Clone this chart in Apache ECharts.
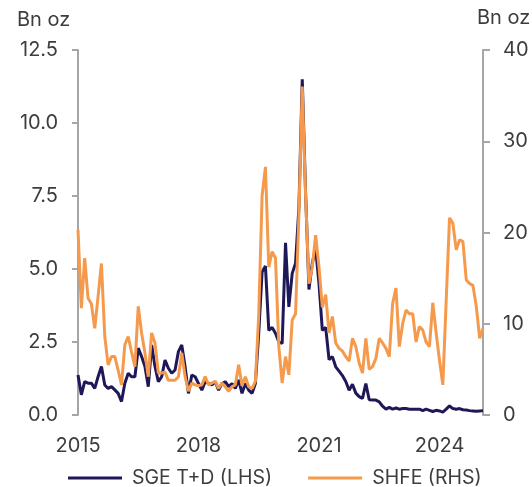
<!DOCTYPE html>
<html>
<head>
<meta charset="utf-8">
<script src="https://cdn.jsdelivr.net/npm/echarts@6/dist/echarts.min.js"></script>
<style>
html,body{margin:0;padding:0;background:#fff;}
#chart{width:532px;height:487px;}
</style>
</head>
<body>
<div id="chart"></div>
<script>
// Monthly, Jan 2015 .. Feb 2025
var startYear = 2015;
var months = [];
for (var i = 0; i < 122; i++) {
  var y = startYear + Math.floor(i / 12);
  var m = (i % 12) + 1;
  months.push(y + '-' + (m < 10 ? '0' + m : m));
}
var yearTickLabels = ['2015', '2018', '2021', '2024'];

// SGE T+D, Bn oz (left axis)
var sgeTD = [
  1.37, 0.69, 1.14, 1.09, 1.09, 0.91, 1.31, 1.66, 1.03, 0.91, 0.97, 0.86,
  0.74, 0.46, 1.09, 1.43, 1.31, 1.31, 2.29, 2.00, 1.66, 0.97, 2.40, 1.66,
  1.14, 1.31, 1.88, 1.60, 1.43, 1.54, 2.17, 2.40, 1.65, 0.74, 1.37, 1.31,
  1.08, 0.85, 1.14, 1.08, 1.03, 1.14, 0.85, 1.08, 1.14, 0.97, 1.08, 0.91,
  1.20, 0.74, 1.08, 0.85, 0.74, 1.08, 2.80, 4.90, 5.10, 2.90, 3.00, 2.80,
  2.50, 2.45, 5.90, 3.70, 4.85, 5.20, 7.10, 11.50, 7.60, 4.30, 5.20, 5.70,
  4.50, 2.90, 3.00, 1.90, 2.00, 1.65, 1.50, 1.35, 1.15, 0.85, 1.05, 0.75,
  0.63, 0.57, 1.08, 0.52, 0.51, 0.51, 0.45, 0.30, 0.20, 0.26, 0.20, 0.24,
  0.20, 0.22, 0.22, 0.20, 0.20, 0.20, 0.20, 0.15, 0.20, 0.16, 0.12, 0.16,
  0.14, 0.10, 0.20, 0.31, 0.22, 0.20, 0.22, 0.18, 0.17, 0.15, 0.14, 0.13,
  0.14, 0.15
];

// SHFE, Bn oz (right axis)
var shfe = [
  20.3, 11.7, 17.2, 12.8, 12.2, 9.5, 13.0, 16.6, 8.6, 5.5, 6.4, 6.4,
  4.9, 3.3, 7.7, 8.6, 6.9, 5.3, 11.9, 9.0, 6.8, 4.2, 9.0, 7.9,
  4.6, 4.6, 4.7, 3.8, 3.8, 3.8, 4.2, 6.8, 4.2, 2.6, 3.5, 3.3,
  3.2, 3.3, 4.2, 3.3, 3.5, 3.7, 2.9, 3.5, 3.1, 2.6, 3.1, 3.3,
  5.5, 3.2, 4.2, 3.1, 2.9, 3.7, 11.0, 24.0, 27.2, 16.2, 17.9, 17.2,
  7.5, 3.5, 6.4, 4.4, 10.4, 11.1, 22.0, 36.0, 24.0, 14.4, 16.2, 19.7,
  16.2, 11.8, 13.2, 9.0, 10.8, 7.9, 7.3, 7.0, 6.4, 5.9, 8.4, 7.5,
  5.7, 4.6, 8.4, 5.0, 5.3, 6.2, 8.4, 7.9, 7.3, 6.4, 12.2, 13.9,
  7.5, 10.0, 11.5, 11.1, 11.1, 8.0, 9.7, 9.3, 8.0, 7.5, 12.3, 9.0,
  6.0, 3.3, 12.5, 21.6, 21.0, 18.1, 19.2, 19.0, 14.8, 14.4, 14.2, 11.9,
  8.4, 9.5
];

var seriesNames = ['SGE T+D (LHS)', 'SHFE (RHS)'];
var navy = '#1e1858';
var orange = '#f59a4c';
var textColor = '#3d3d3d';
var axisColor = '#a6a6a6';
var fontFamily = 'Inter';
var fs = 20;

var chart = echarts.init(document.getElementById('chart'), null, {renderer: 'canvas'});
chart.setOption({
  animation: false,
  textStyle: {fontFamily: fontFamily},
  grid: {left: 78, right: 49, top: 50, bottom: 72, containLabel: false},
  graphic: [
    {type: 'text', left: 17, top: 10, style: {text: 'Bn oz', fill: textColor, font: fs + 'px ' + fontFamily}},
    {type: 'text', left: 477, top: 8, style: {text: 'Bn oz', fill: textColor, font: fs + 'px ' + fontFamily}}
  ],
  legend: {
    left: 63,
    top: 463,
    icon: 'rect',
    itemWidth: 54,
    itemHeight: 3,
    itemGap: 36,
    textStyle: {color: textColor, fontSize: 19.5, fontFamily: fontFamily, padding: [0, 0, 0, 5]},
    data: seriesNames
  },
  xAxis: {
    type: 'category',
    data: months,
    boundaryGap: false,
    axisLine: {show: false},
    axisTick: {show: false},
    splitLine: {show: false},
    axisLabel: {
      color: textColor,
      fontSize: fs,
      fontFamily: fontFamily,
      margin: 21,
      interval: function (index, value) { return yearTickLabels.indexOf(value.slice(0, 4)) >= 0 && value.slice(5) === '01'; },
      formatter: function (value) { return value.slice(0, 4); }
    }
  },
  yAxis: [
    {
      type: 'value',
      min: 0, max: 12.5, interval: 2.5,
      position: 'left',
      axisLine: {show: true, lineStyle: {color: axisColor, width: 2}},
      axisTick: {show: true, length: 6, lineStyle: {color: axisColor, width: 2}},
      splitLine: {show: false},
      axisLabel: {color: textColor, fontSize: fs, fontFamily: fontFamily, margin: 20,
        formatter: function (v) { return v.toFixed(1); }}
    },
    {
      type: 'value',
      min: 0, max: 40, interval: 10,
      position: 'right',
      axisLine: {show: true, lineStyle: {color: axisColor, width: 2}},
      axisTick: {show: true, length: 7, lineStyle: {color: axisColor, width: 2}},
      splitLine: {show: false},
      axisLabel: {color: textColor, fontSize: fs, fontFamily: fontFamily, margin: 20}
    }
  ],
  series: [
    {
      name: seriesNames[0], type: 'line', yAxisIndex: 0, data: sgeTD,
      showSymbol: false, symbol: 'none',
      lineStyle: {color: navy, width: 3}, itemStyle: {color: navy}
    },
    {
      name: seriesNames[1], type: 'line', yAxisIndex: 1, data: shfe,
      showSymbol: false, symbol: 'none',
      lineStyle: {color: orange, width: 3}, itemStyle: {color: orange}
    }
  ]
});
</script>
</body>
</html>
